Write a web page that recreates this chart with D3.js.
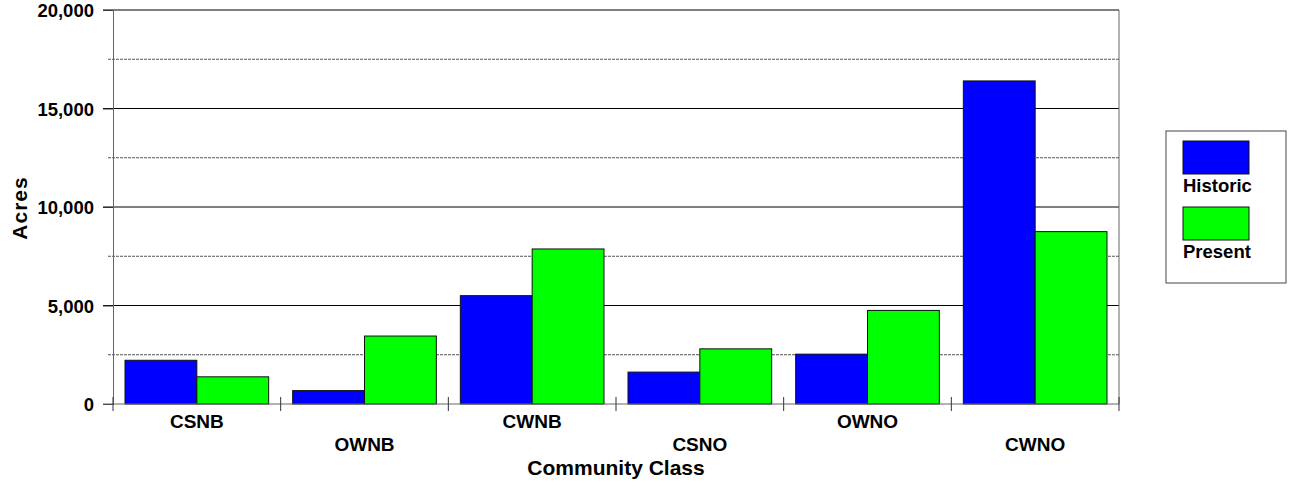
<!DOCTYPE html>
<html>
<head>
<meta charset="utf-8">
<script src="https://cdn.jsdelivr.net/npm/d3@7"></script>
<style>
  body { margin: 0; background: #fff; }
  text { font-family: "Liberation Sans", Arial, sans-serif; font-weight: bold; fill: #000; }
</style>
</head>
<body>
<div id="chart"></div>
<script>
let classes = ["CSNB", "OWNB", "CWNB", "CSNO", "OWNO", "CWNO"];
let historic = [2220, 680, 5500, 1620, 2530, 16400];
let present = [1380, 3450, 7870, 2800, 4750, 8750];
let seriesNames = ["Historic", "Present"];
let seriesColors = ["#0000ff", "#00ff00"];
let majorTicks = [0, 5000, 10000, 15000, 20000];
let minorTicks = [2500, 7500, 12500, 17500];

let w = 1293, h = 486;
let plotL = 113, plotR = 1119, plotT = 10, plotB = 404;

let svg = d3.select("#chart").append("svg")
    .attr("width", w)
    .attr("height", h);

let x = d3.scaleBand()
    .domain(classes)
    .range([plotL, plotR])
    .paddingInner(0)
    .paddingOuter(0);
let xs = d3.scaleBand()
    .domain(seriesNames)
    .range([0, x.bandwidth()])
    .paddingOuter(0.167);
let y = d3.scaleLinear()
    .domain([0, 20000])
    .range([plotB, plotT]);

// gridlines
svg.selectAll(".minor")
    .data(minorTicks)
    .enter()
    .append("line")
    .attr("x1", plotL - 5)
    .attr("x2", plotR)
    .attr("y1", d => y(d))
    .attr("y2", d => y(d))
    .attr("stroke", "#555")
    .attr("stroke-width", 1)
    .attr("stroke-dasharray", "3,1");
svg.selectAll(".major")
    .data(majorTicks.filter(d => d > 0))
    .enter()
    .append("line")
    .attr("x1", plotL - 10)
    .attr("x2", plotR)
    .attr("y1", d => y(d))
    .attr("y2", d => y(d))
    .attr("stroke", "#000")
    .attr("stroke-width", 1);

// right frame
svg.append("line")
    .attr("x1", plotR).attr("x2", plotR)
    .attr("y1", plotT).attr("y2", plotB)
    .attr("stroke", "#666");

let data = classes.map((c, i) => ({cls: c, vals: [historic[i], present[i]]}));
let groups = svg.selectAll(".grp")
    .data(data)
    .enter()
    .append("g")
    .attr("transform", d => `translate(${x(d.cls)},0)`);
groups.selectAll("rect")
    .data(d => d.vals.map((v, j) => ({name: seriesNames[j], v: v, color: seriesColors[j]})))
    .enter()
    .append("rect")
    .attr("x", d => xs(d.name))
    .attr("width", xs.bandwidth())
    .attr("y", d => y(d.v))
    .attr("height", d => y(0) - y(d.v))
    .attr("fill", d => d.color)
    .attr("stroke", "#111")
    .attr("stroke-width", 1);

// y axis
let yAxis = svg.append("g")
    .attr("transform", `translate(${plotL},0)`)
    .call(d3.axisLeft(y).tickValues(majorTicks).tickSize(10).tickFormat(d3.format(",")));
yAxis.select(".domain").attr("stroke", "#666");
yAxis.selectAll(".tick line").attr("stroke", "#333").attr("x2", -10);
yAxis.selectAll(".tick text")
    .attr("x", -19)
    .attr("dy", "0.36em")
    .style("font-size", "18.5px");

// x axis
let xTicks = d3.range(classes.length + 1).map(i => plotL + i * x.bandwidth());
svg.append("line")
    .attr("x1", plotL - 10).attr("x2", plotR)
    .attr("y1", plotB).attr("y2", plotB)
    .attr("stroke", "#666");
svg.selectAll(".xtick")
    .data(xTicks)
    .enter()
    .append("line")
    .attr("x1", d => d).attr("x2", d => d)
    .attr("y1", plotB - 7).attr("y2", plotB + 7)
    .attr("stroke", "#333");
svg.selectAll(".xlabel")
    .data(classes)
    .enter()
    .append("text")
    .attr("x", d => x(d) + x.bandwidth() / 2)
    .attr("y", (d, i) => i % 2 == 0 ? 428 : 451)
    .attr("text-anchor", "middle")
    .style("font-size", "19px")
    .text(d => d);

svg.append("text")
    .attr("x", (plotL + plotR) / 2)
    .attr("y", 475)
    .attr("text-anchor", "middle")
    .style("font-size", "21px")
    .text("Community Class");
svg.append("text")
    .attr("transform", `translate(27, ${(plotT + plotB) / 2 + 1}) rotate(-90)`)
    .attr("text-anchor", "middle")
    .style("font-size", "21px")
    .style("letter-spacing", "1px")
    .text("Acres");

// legend
let legend = svg.append("g");
legend.append("rect")
    .attr("x", 1166).attr("y", 131)
    .attr("width", 120).attr("height", 152)
    .attr("fill", "#fff")
    .attr("stroke", "#444");
legend.selectAll(".lsw")
    .data(seriesNames)
    .enter()
    .append("rect")
    .attr("x", 1183)
    .attr("y", (d, i) => 141 + i * 66)
    .attr("width", 66)
    .attr("height", 33)
    .attr("fill", (d, i) => seriesColors[i])
    .attr("stroke", "#111");
legend.selectAll(".ltx")
    .data(seriesNames)
    .enter()
    .append("text")
    .attr("x", 1183)
    .attr("y", (d, i) => 192 + i * 66)
    .style("font-size", "18.5px")
    .text(d => d);
</script>
</body>
</html>
